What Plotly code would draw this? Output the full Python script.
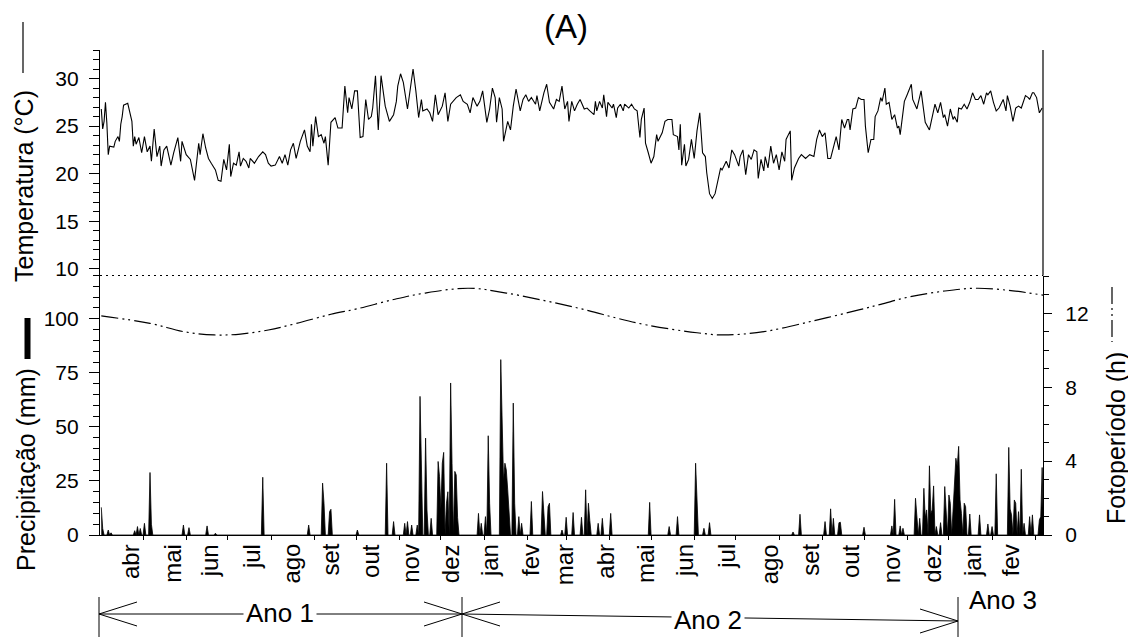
import numpy as np
import plotly.graph_objects as go

# ---------------- data (x = day index from start of record) ----------------
temp_day = [0, 1, 2, 3, 4, 5, 6, 9, 10, 12, 13, 14, 15, 16, 19, 21, 22, 23, 24, 25, 27, 29, 31, 33, 35, 36, 38, 40, 42, 43, 45, 47, 48, 50, 52, 55, 57, 58, 61, 64, 67, 69, 70, 71, 73, 75, 77, 79, 82, 84, 86, 88, 90, 92, 93, 95, 97, 99, 100, 102, 104, 106, 107, 110, 112, 113, 116, 118, 120, 122, 125, 128, 130, 132, 134, 136, 138, 140, 143,
            146, 148, 150, 151, 152, 154, 156, 158, 160, 161, 163, 165, 168, 170, 173, 175, 177, 178, 180, 182, 184, 186, 188, 190, 192, 194, 195, 197, 199, 201, 204, 207, 210, 212, 213, 215, 217, 220, 222, 224, 226, 228, 230, 231, 234, 236, 238, 240, 242, 245, 247, 249, 251, 253, 255, 258, 260, 263, 265, 267, 270, 272, 274, 277, 279, 281, 283, 284, 286, 288, 289, 292, 294, 296, 298, 301, 303, 305, 307, 309, 312, 313, 315, 318, 320, 322, 325, 327, 329, 331, 333, 335, 336, 338, 340, 342, 344, 347, 349, 351,
            354, 355, 356, 358, 360, 361, 363, 364, 367, 368, 370, 371, 373, 375, 376, 379, 381, 383, 385, 387, 388, 390, 391, 393, 395, 397, 399, 400, 403, 405, 407, 410, 411, 414, 415, 416, 417, 419, 420, 422, 424, 426, 428, 430, 432, 434, 435, 437, 439, 441, 443, 445, 446, 449, 451, 453, 455, 458, 459, 461, 463, 465, 467, 469, 471, 472, 474, 476, 477, 479, 481, 483, 485, 487, 489, 491, 492, 495, 496, 498, 501, 503, 506, 509, 512, 514, 516, 518, 520, 522, 524, 526, 528, 530, 532, 534, 536, 537, 538, 540, 542, 544, 546, 548, 549, 551, 553, 555, 556, 558, 560,
            561, 563, 564, 566, 568, 570, 572, 573, 574, 577, 579, 582, 583, 586, 589, 592, 595, 597, 599, 601, 603, 605, 606, 608, 610, 612, 613, 615, 616, 618, 620, 622, 624, 626, 628, 630, 632, 634, 636, 637, 639, 641, 643, 645, 648, 650, 651, 653, 655, 657, 659, 661, 664, 666, 667, 669, 670, 672, 674, 676]
temp_c = [26.8, 24.7, 25.5, 27.5, 25.3, 22.0, 22.9, 22.8, 23.4, 23.9, 23.4, 25.2, 26.0, 27.2, 27.4, 26.0, 25.5, 22.9, 23.9, 23.1, 23.8, 22.2, 23.9, 22.3, 22.9, 21.3, 24.7, 21.8, 22.9, 20.8, 22.5, 22.9, 22.3, 20.9, 22.2, 23.8, 21.3, 23.4, 22.0, 21.5, 19.3, 22.0, 23.2, 22.0, 24.2, 22.7, 21.6, 21.1, 20.4, 19.3, 19.2, 21.5, 20.4, 23.1, 19.7, 21.1, 20.9, 22.3, 20.8, 21.6, 21.3, 20.6, 21.6, 21.1, 21.6, 21.8, 22.3, 22.0, 21.1, 20.8, 20.9, 21.8, 21.1, 22.0, 20.9, 22.5, 23.2, 21.6, 23.4,
          24.6, 22.9, 22.3, 25.2, 22.9, 26.0, 23.9, 24.1, 23.2, 23.9, 20.9, 25.4, 25.9, 24.8, 24.8, 29.2, 26.4, 28.0, 26.8, 28.7, 28.7, 23.8, 23.9, 27.8, 25.7, 26.0, 26.9, 30.3, 24.6, 30.3, 27.1, 25.5, 26.2, 27.6, 29.2, 30.5, 29.6, 26.8, 28.9, 31.0, 28.7, 25.9, 27.8, 26.6, 26.8, 26.4, 25.5, 28.3, 26.2, 27.1, 28.5, 25.5, 27.3, 27.6, 28.0, 28.3, 27.6, 27.3, 26.4, 28.0, 27.1, 27.6, 28.7, 25.4, 26.8, 29.0, 28.0, 25.4, 28.0, 26.8, 23.4, 25.5, 24.6, 27.1, 28.9, 26.6, 27.8, 28.3, 27.6, 28.0, 27.3, 28.2, 26.6, 28.5, 29.4, 27.5, 26.8, 27.8, 27.6, 29.2, 26.8, 27.6, 25.5, 27.6, 26.6, 27.3, 27.8, 26.8, 26.9, 26.6,
          26.2, 27.6, 26.6, 27.6, 26.9, 28.3, 26.0, 27.5, 26.9, 27.3, 25.9, 26.9, 27.3, 26.6, 27.3, 26.9, 27.3, 26.8, 26.6, 23.8, 25.7, 26.9, 23.2, 22.2, 21.1, 21.8, 24.1, 23.4, 24.3, 25.5, 25.7, 25.7, 24.1, 23.9, 22.5, 25.2, 20.9, 23.1, 20.8, 21.5, 23.6, 21.6, 24.5, 26.4, 22.2, 21.8, 20.1, 17.9, 17.4, 17.9, 19.3, 20.6, 20.4, 21.3, 20.6, 22.5, 22.0, 20.8, 21.8, 22.5, 19.9, 22.0, 21.5, 22.5, 22.3, 19.5, 21.5, 20.3, 21.8, 20.6, 22.9, 21.1, 22.0, 20.4, 22.3, 21.3, 23.6, 24.5, 19.3, 20.6, 21.6, 22.0, 21.6, 22.0, 21.8, 23.6, 24.6, 23.9, 24.3, 21.6, 21.6, 22.7, 23.9, 22.5, 25.7, 24.8, 25.7, 25.7, 24.6, 26.8, 26.9, 28.0, 27.8, 27.8, 25.0, 22.2, 23.6, 23.6, 26.0, 26.6, 28.0,
          27.6, 29.0, 27.3, 27.5, 25.7, 26.2, 24.8, 25.0, 24.1, 27.6, 28.3, 29.4, 27.8, 26.8, 28.7, 25.4, 24.6, 25.9, 27.3, 26.4, 27.5, 25.9, 26.2, 25.0, 26.8, 25.7, 26.0, 25.4, 26.9, 26.8, 27.3, 26.8, 27.5, 28.5, 27.8, 27.8, 28.2, 27.3, 28.5, 28.3, 28.7, 27.5, 26.6, 26.9, 27.8, 26.6, 28.2, 27.1, 25.5, 26.9, 27.1, 26.9, 28.2, 28.0, 27.8, 28.5, 28.5, 28.0, 26.4, 26.9]

rain_day = [0, 1, 5, 7, 24, 26, 28, 31, 35, 36, 59, 63, 76, 82, 116, 149, 159, 160, 164, 165, 184, 205, 210, 218, 220, 223, 227, 229, 230, 233, 234, 237, 242, 243, 244, 245, 246, 248, 249, 251, 252, 254, 255, 256, 271, 273, 276, 278, 279, 287, 288, 289, 290, 291, 292, 293, 296, 297, 300, 302, 309, 317, 318, 321, 322, 331, 334, 339, 345, 348, 350, 351, 357, 360, 366, 394, 408, 414, 427, 428, 433, 437, 497, 502, 520, 524, 526, 530, 531, 548, 568, 570, 574, 576, 585, 586, 588, 591, 592, 593, 595, 596, 597, 598, 600, 603, 606, 607, 609, 610, 612, 613, 614, 615, 616, 617, 618, 620, 621, 624, 631, 637, 640, 643, 652, 653, 654, 656, 657, 659, 661, 663, 667, 669, 674, 675, 676]
rain_mm = [12.8, 3.0, 2.3, 1.0, 2.0, 3.9, 3.0, 5.4, 28.9, 5.0, 4.6, 3.4, 4.2, 0.8, 26.7, 4.6, 24.0, 14.7, 10.8, 11.9, 2.3, 33.2, 6.2, 5.4, 6.2, 4.6, 4.6, 64.1, 30.0, 44.8, 11.6, 7.7, 34.0, 27.0, 12.0, 33.2, 38.2, 14.7, 20.0, 70.3, 33.2, 29.4, 27.8, 8.0, 10.0, 5.4, 8.5, 45.9, 14.7, 81.1, 53.3, 25.0, 33.2, 30.1, 20.9, 12.0, 61.0, 14.7, 8.5, 5.4, 15.5, 20.1, 10.0, 13.1, 14.7, 2.3, 8.2, 10.4, 8.2, 20.9, 14.7, 6.6, 5.4, 7.7, 10.0, 15.1, 3.9, 8.5, 33.2, 14.7, 3.1, 5.7, 1.4, 9.6, 6.2, 12.1, 7.7, 5.7, 5.9, 3.6, 4.2, 16.5, 4.2, 3.1, 17.0, 6.0, 7.7, 21.6, 8.0, 11.6, 32.0, 10.0, 11.6, 22.7, 3.9, 5.7, 22.4, 12.0, 18.5, 14.7, 11.6, 20.0, 35.5, 31.7, 41.0, 16.2, 10.0, 14.7, 13.1, 9.7, 9.3, 5.1, 3.9, 28.3, 40.5, 12.0, 9.3, 16.2, 14.7, 10.8, 30.4, 5.4, 8.5, 9.3, 7.0, 8.5, 31.2]

photo_day = [0, 35, 59, 81, 100, 120, 140, 165, 184, 210, 231, 264, 291, 327, 350, 370, 392, 428, 447, 476, 512, 545, 560, 581, 605, 629, 655, 677]
photo_h = [11.86, 11.46, 11.01, 10.83, 10.88, 11.1, 11.45, 11.95, 12.25, 12.75, 13.08, 13.36, 13.1, 12.55, 12.15, 11.75, 11.37, 10.95, 10.83, 11.01, 11.6, 12.2, 12.49, 12.9, 13.2, 13.36, 13.22, 12.98]

month_tick_day = [30, 61, 91, 122, 153, 183, 214, 244, 275, 306, 334, 365, 395, 426, 456, 487, 518, 548, 579, 609, 640, 671]
month_label_day = [21, 51, 78, 108, 136, 164, 193, 222, 251, 279, 308, 333, 362, 391, 419, 449, 480, 509, 538, 568, 597, 626, 653]
month_labels = ["abr", "mai", "jun", "jul", "ago", "set", "out", "nov", "dez", "jan", "fev", "mar",
                "abr", "mai", "jun", "jul", "ago", "set", "out", "nov", "dez", "jan", "fev"]
year_labels = ["Ano 1", "Ano 2", "Ano 3"]

# daily precipitation series (days without rain = 0)
n_days = 678
rain_daily = np.zeros(n_days)
for d, v in zip(rain_day, rain_mm):
    rain_daily[d] = max(rain_daily[d], v)
days = np.arange(n_days)

# ---------------- layout helpers (screen pixels of the plot frame) ----------------
FONT = "Liberation Sans, Arial, sans-serif"
OFF = 8                      # page body margin
L, R, T, B = 100, 1043, 50, 535
W, H = R - L, B - T


def px(xs):
    return (xs - L) / W


def py(ys):
    return (B - ys) / H


split = py(275.5)
X_RANGE = [-0.93, 676.6]

fig = go.Figure()
fig.add_trace(go.Scatter(x=temp_day, y=temp_c, mode="lines",
                         line=dict(color="black", width=1.1), xaxis="x", yaxis="y"))
fig.add_trace(go.Scatter(x=days, y=rain_daily, mode="lines", fill="tozeroy", fillcolor="black",
                         line=dict(color="black", width=0.8), xaxis="x", yaxis="y2"))
PHOTO_DASH = "17px,4px,2px,4px,2px,4px"
fig.add_trace(go.Scatter(x=photo_day, y=photo_h, mode="lines",
                         line=dict(color="black", width=1.2, shape="spline", dash=PHOTO_DASH),
                         xaxis="x", yaxis="y3"))

tickfont = dict(family=FONT, size=21, color="black")
common = dict(showline=True, linecolor="black", linewidth=1.2, showgrid=False, zeroline=False,
              tickcolor="black", tickwidth=1.2, tickfont=tickfont)

fig.update_layout(
    width=1136, height=640,
    margin=dict(l=L - OFF, r=1136 - R + OFF, t=T - OFF, b=640 - B + OFF),
    paper_bgcolor="white", plot_bgcolor="white", showlegend=False,
    xaxis=dict(domain=[0, 1], range=X_RANGE, anchor="y2", tickmode="array", tickvals=month_tick_day,
               ticks="outside", ticklen=4, showticklabels=False, **common),
    yaxis=dict(domain=[split, 1], range=[9.3, 33], anchor="x", tickmode="linear", tick0=10, dtick=5,
               ticks="outside", ticklen=10, ticklabelstandoff=6,
               minor=dict(tickmode="linear", tick0=10, dtick=1, ticks="outside", ticklen=6,
                          tickcolor="black", tickwidth=1.2),
               **common),
    yaxis2=dict(domain=[0, split], range=[0, 120], anchor="x", tickmode="linear", tick0=0, dtick=25,
                ticks="outside", ticklen=10, ticklabelstandoff=6,
                minor=dict(tickmode="linear", tick0=0, dtick=5, ticks="outside", ticklen=6,
                           tickcolor="black", tickwidth=1.2),
                **common),
    yaxis3=dict(overlaying="y2", side="right", range=[0, 14.05], anchor="x", tickmode="linear",
                tick0=0, dtick=4, ticks="outside", ticklen=8, ticklabelstandoff=9,
                minor=dict(tickmode="linear", tick0=0, dtick=1, ticks="outside", ticklen=5,
                           tickcolor="black", tickwidth=1.2),
                **common),
)

shapes = []
# dotted separator between panels
shapes.append(dict(type="line", xref="paper", yref="paper", x0=0, x1=1, y0=split, y1=split,
                   line=dict(color="black", width=1.2, dash="2px,4px")))
# right frame line of top panel
shapes.append(dict(type="line", xref="paper", yref="paper", x0=1, x1=1, y0=split, y1=1,
                   line=dict(color="black", width=1.2)))
# legend samples next to axis titles
shapes.append(dict(type="line", xref="paper", yref="paper", x0=px(23), x1=px(23), y0=py(22), y1=py(73),
                   line=dict(color="black", width=1.2)))
shapes.append(dict(type="line", xref="paper", yref="paper", x0=px(27.5), x1=px(27.5), y0=py(318), y1=py(359),
                   line=dict(color="black", width=6)))
shapes.append(dict(type="line", xref="paper", yref="paper", x0=px(1112), x1=px(1112), y0=py(287), y1=py(342),
                   line=dict(color="black", width=1.2, dash=PHOTO_DASH)))

# year brackets: (start x, start y) -> (end x, end y) in screen pixels
for bx in [99, 462, 958]:
    shapes.append(dict(type="line", xref="paper", yref="paper", x0=px(bx), x1=px(bx), y0=py(597), y1=py(637),
                       line=dict(color="black", width=1)))
for (a, ya), (b, yb) in [((99, 614), (462, 614)), ((462, 614), (958, 621))]:
    shapes.append(dict(type="line", xref="paper", yref="paper", x0=px(a), x1=px(b), y0=py(ya), y1=py(yb),
                       line=dict(color="black", width=1)))
    for tip, ty, sgn in [(a, ya, 1), (b, yb, -1)]:
        for dy in (-12, 12):
            shapes.append(dict(type="line", xref="paper", yref="paper", x0=px(tip), x1=px(tip + sgn * 38),
                               y0=py(ty), y1=py(ty + dy), line=dict(color="black", width=1)))

annotations = []
annotations.append(dict(text="(A)", xref="paper", yref="paper", x=px(566), y=py(27), showarrow=False,
                        font=dict(family=FONT, size=33, color="black"), xanchor="center", yanchor="middle"))
title_font = dict(family=FONT, size=25, color="black")
annotations.append(dict(text="Temperatura (°C)", xref="paper", yref="paper", x=px(24), y=py(186),
                        textangle=-90, showarrow=False, font=title_font, xanchor="center", yanchor="middle"))
annotations.append(dict(text="Precipitação (mm)", xref="paper", yref="paper", x=px(26), y=py(470),
                        textangle=-90, showarrow=False, font=title_font, xanchor="center", yanchor="middle"))
annotations.append(dict(text="Fotoperíodo (h)", xref="paper", yref="paper", x=px(1116), y=py(438),
                        textangle=-90, showarrow=False, font=title_font, xanchor="center", yanchor="middle"))
for d, lab in zip(month_label_day, month_labels):
    annotations.append(dict(text=lab, xref="x", yref="paper", x=d, y=py(542), textangle=-90,
                            showarrow=False, font=dict(family=FONT, size=24, color="black"),
                            xanchor="center", yanchor="top"))
year_pos = [(280, 613), (708, 620), (1003, 600)]
for lab, (xs, ys) in zip(year_labels, year_pos):
    annotations.append(dict(text=lab, xref="paper", yref="paper", x=px(xs), y=py(ys), showarrow=False,
                            font=dict(family=FONT, size=26, color="black"), bgcolor="white",
                            xanchor="center", yanchor="middle", borderpad=2))

fig.update_layout(shapes=shapes, annotations=annotations)
fig.write_html("out.html")
